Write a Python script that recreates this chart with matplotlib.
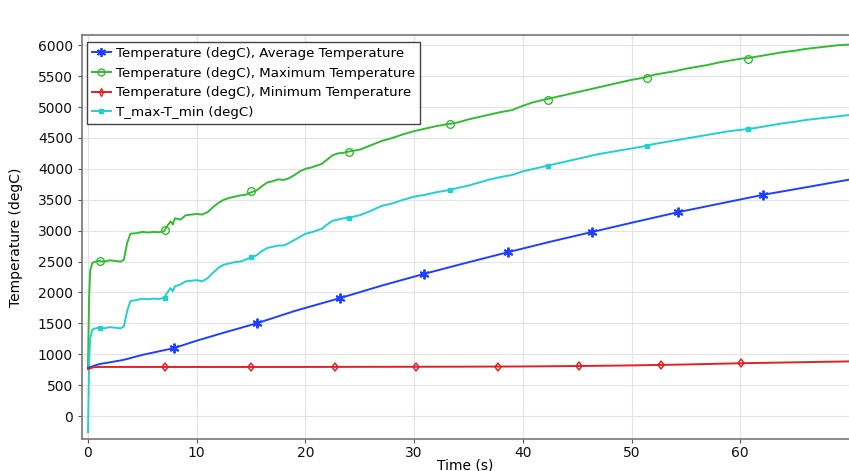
import matplotlib
matplotlib.use("Agg")
import matplotlib.pyplot as plt
from matplotlib.lines import Line2D

# Maximum temperature (degC)
t_max = [0, 0.1, 0.2, 0.4, 0.7, 1.0, 1.5, 2.0, 2.5, 3.0, 3.3, 3.6, 3.9, 4.5, 5.0,
         5.5, 6.0, 6.5, 7.0, 7.3, 7.6, 7.8, 8.0, 8.5, 9.0, 9.5, 10.0, 10.5, 11.0,
         11.5, 12.0, 12.5, 13.0, 13.5, 14.0, 14.5, 15.0, 15.5, 16.0, 16.5, 17.0,
         17.5, 18.0, 18.5, 19.0, 19.5, 20.0, 20.5, 21.0, 21.5, 22.0, 22.5, 23.0,
         23.5, 24.0, 25.0, 26.0, 27.0, 28.0, 29.0, 30.0, 31.0, 32.0, 33.0, 34.0,
         35.0, 36.0, 37.0, 38.0, 39.0, 40.0, 41.0, 42.0, 43.0, 44.0, 45.0, 46.0,
         47.0, 48.0, 49.0, 50.0, 51.0, 52.0, 53.0, 54.0, 55.0, 56.0, 57.0, 58.0,
         59.0, 60.0, 61.0, 62.0, 63.0, 64.0, 65.0, 66.0, 67.0, 68.0, 69.0, 70.0]
v_max = [800, 1900, 2350, 2480, 2500, 2510, 2500, 2520, 2510, 2500, 2530, 2800,
         2950, 2960, 2980, 2970, 2980, 2975, 2990, 3080, 3150, 3100, 3200, 3180,
         3250, 3260, 3270, 3260, 3300, 3380, 3450, 3500, 3530, 3550, 3570, 3580,
         3620, 3650, 3720, 3780, 3800, 3830, 3820, 3850, 3900, 3960, 4000, 4020,
         4050, 4080, 4150, 4220, 4250, 4260, 4280, 4310, 4380, 4450, 4500, 4560,
         4610, 4650, 4690, 4720, 4750, 4800, 4840, 4880, 4920, 4950, 5020, 5080,
         5120, 5160, 5200, 5240, 5280, 5320, 5360, 5400, 5440, 5470, 5520, 5550,
         5580, 5620, 5650, 5680, 5720, 5750, 5780, 5800, 5830, 5860, 5890, 5910,
         5940, 5960, 5980, 6000, 6010]

# T_max - T_min (degC)
t_diff = [0, 0.05, 0.1, 0.2, 0.4, 0.7, 1.0, 1.5, 2.0, 2.5, 3.0, 3.3, 3.6, 3.9,
          4.5, 5.0, 5.5, 6.0, 6.5, 7.0, 7.3, 7.6, 7.8, 8.0, 8.5, 9.0, 9.5, 10.0,
          10.5, 11.0, 11.5, 12.0, 12.5, 13.0, 13.5, 14.0, 14.5, 15.0, 15.5, 16.0,
          16.5, 17.0, 17.5, 18.0, 18.5, 19.0, 19.5, 20.0, 20.5, 21.0, 21.5, 22.0,
          22.5, 23.0, 23.5, 24.0, 25.0, 26.0, 27.0, 28.0, 29.0, 30.0, 31.0, 32.0,
          33.0, 34.0, 35.0, 36.0, 37.0, 38.0, 39.0, 40.0, 41.0, 42.0, 43.0, 44.0,
          45.0, 46.0, 47.0, 48.0, 49.0, 50.0, 51.0, 52.0, 53.0, 54.0, 55.0, 56.0,
          57.0, 58.0, 59.0, 60.0, 61.0, 62.0, 63.0, 64.0, 65.0, 66.0, 67.0, 68.0,
          69.0, 70.0]
v_diff = [-260, 300, 900, 1250, 1400, 1420, 1430, 1420, 1440, 1430, 1420, 1450,
          1700, 1860, 1880, 1900, 1890, 1900, 1895, 1910, 2000, 2070, 2020, 2100,
          2130, 2180, 2190, 2200, 2180, 2230, 2320, 2400, 2450, 2470, 2490, 2500,
          2530, 2570, 2600, 2670, 2720, 2740, 2760, 2760, 2800, 2850, 2900, 2950,
          2970, 3000, 3030, 3100, 3160, 3180, 3200, 3210, 3250, 3320, 3400, 3440,
          3500, 3550, 3580, 3620, 3650, 3690, 3730, 3780, 3830, 3870, 3900, 3960,
          4000, 4040, 4080, 4120, 4160, 4200, 4240, 4270, 4300, 4330, 4360, 4400,
          4430, 4460, 4490, 4520, 4550, 4580, 4610, 4630, 4650, 4680, 4710, 4740,
          4760, 4790, 4810, 4830, 4850, 4870]

# Average temperature (degC)
t_avg = [0, 1, 2, 3, 3.5, 5, 7.9, 10, 12.5, 15.5, 19, 23.2, 27, 30.9, 34.8, 38.6,
         42.5, 46.4, 50.3, 54.3, 58.2, 62.1, 66, 70]
v_avg = [780, 840, 870, 900, 920, 990, 1100, 1220, 1350, 1500, 1700, 1910, 2110,
         2300, 2480, 2650, 2820, 2980, 3140, 3300, 3440, 3580, 3700, 3825]

# Minimum temperature (degC)
t_min = [0, 0.5, 1, 5, 10, 15, 20, 25, 30, 35, 40, 45, 50, 55, 60, 65, 70]
v_min = [760, 790, 795, 795, 795, 795, 795, 797, 798, 800, 803, 810, 820, 835,
         855, 870, 885]

# marker positions
mk_avg_t = [7.9, 15.5, 23.2, 30.9, 38.6, 46.4, 54.3, 62.1]
mk_avg_v = [1100, 1500, 1910, 2300, 2650, 2980, 3300, 3580]
mk_max_t = [1.1, 7.1, 15.0, 24.0, 33.3, 42.3, 51.4, 60.7]
mk_max_v = [2510, 3010, 3640, 4280, 4720, 5120, 5470, 5780]
mk_diff_t = [1.1, 7.1, 15.0, 24.0, 33.3, 42.3, 51.4, 60.7]
mk_diff_v = [1430, 1910, 2570, 3210, 3650, 4050, 4370, 4640]
mk_min_t = [7.1, 15.0, 22.7, 30.2, 37.7, 45.2, 52.7, 60.1]
mk_min_v = [795, 795, 797, 798, 801, 810, 828, 855]

labels = ["Temperature (degC), Average Temperature",
          "Temperature (degC), Maximum Temperature",
          "Temperature (degC), Minimum Temperature",
          "T_max-T_min (degC)"]

c_avg = "#2040ff"
c_max = "#33bb33"
c_min = "#e02222"
c_diff = "#22d0d0"
asterisk = (6, 2, 0)

fig = plt.figure(figsize=(8.49, 4.71), dpi=100)
ax = fig.add_axes([0.0966, 0.068, 0.9034, 0.857])

lw = 1.4
ax.plot(t_max, v_max, color=c_max, lw=lw)
ax.plot(t_diff, v_diff, color=c_diff, lw=lw)
ax.plot(t_avg, v_avg, color=c_avg, lw=lw)
ax.plot(t_min, v_min, color=c_min, lw=lw)

ax.plot(mk_avg_t, mk_avg_v, ls="none", marker=asterisk, ms=7, mew=1.4,
        color=c_avg)
ax.plot(mk_max_t, mk_max_v, ls="none", marker="o", ms=5.5, mfc="none", mew=1.0,
        color=c_max)
ax.plot(mk_diff_t, mk_diff_v, ls="none", marker="s", ms=3.5, color=c_diff)
ax.plot(mk_min_t, mk_min_v, ls="none", marker="d", ms=4.5, mfc="none", mew=1.1,
        color=c_min)

ax.set_xlim(-0.55, 70)
ax.set_ylim(-370, 6160)
ax.set_xticks(range(0, 70, 10))
ax.set_yticks(range(0, 6001, 500))
ax.grid(True, color="#e4e4e4", lw=0.8)
ax.set_axisbelow(True)

for side in ["left", "bottom", "top"]:
    ax.spines[side].set_color("#777777")
    ax.spines[side].set_linewidth(1.2)
ax.spines["right"].set_visible(False)
ax.tick_params(axis="both", labelsize=10, length=3, color="#555555",
               labelcolor="#111111")
ax.tick_params(axis="x", pad=2)

# inward tick marks along the top edge
top = ax.secondary_xaxis("top")
top.set_xticks(range(0, 70, 10))
top.tick_params(direction="in", length=3, color="#555555", labeltop=False)
top.spines["top"].set_visible(False)

ax.set_xlabel("Time (s)", fontsize=10, labelpad=-1)
ax.set_ylabel("Temperature (degC)", fontsize=10, labelpad=11)

handles = [
    Line2D([], [], color=c_avg, lw=lw, marker=asterisk, ms=6.5, mew=1.3),
    Line2D([], [], color=c_max, lw=lw, marker="o", ms=5, mfc="none"),
    Line2D([], [], color=c_min, lw=lw, marker="d", ms=4, mfc="none"),
    Line2D([], [], color=c_diff, lw=lw, marker="s", ms=3.5),
]
leg = ax.legend(handles, labels, loc="upper left", bbox_to_anchor=(0.007, 0.983),
                borderaxespad=0, fontsize=9.6, fancybox=False, framealpha=1,
                edgecolor="#444444", handlelength=1.4, handletextpad=0.4,
                labelspacing=0.5, borderpad=0.35)
leg.get_frame().set_linewidth(1.0)

fig.savefig("out.png", dpi=100)
